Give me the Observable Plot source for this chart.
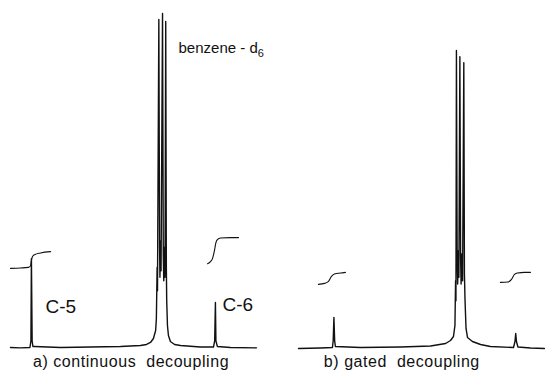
<!DOCTYPE html>
<html><head><meta charset="utf-8">
<script src="https://cdn.jsdelivr.net/npm/d3@7"></script>
<script src="https://cdn.jsdelivr.net/npm/@observablehq/plot@0.6"></script>
<style>body{margin:0;background:#fff}#chart svg{display:block}</style>
</head><body><div id="chart"></div>
<script>
// Positions are in relative spectrum units (0-100 across each panel), intensities 0-100 (tallest line = 100)
const panels = ["a", "b"];
const panelTitles = ["a) continuous  decoupling", "b) gated  decoupling"];
const peakLabels = ["C-5", "C-6"];
const solventLabel = ["benzene - d", "6"];

// a) continuous decoupling: spectrum trace [position, intensity]
const spectrumA = [
  [0,0],[4.1,-0.1],[7.9,0],[8.3,2],[8.5,26.6],[8.8,2],[9.1,0.3],[9.8,0.3],
  [20.3,0],[32.5,0.15],[44.7,0.3],[52.8,0.6],[55.3,0.9],[56.9,1.5],[58.1,2.7],
  [59,5.1],[59.3,8.7],[59.6,24],[59.75,17],[60.3,98.2],[60.6,30],[60.75,21],
  [61.0,32],[61.2,23],[61.8,100],[62.1,28],[62.3,20],[62.6,30],[62.8,21],
  [63.1,97.6],[63.35,24],[63.5,14],[63.8,6.6],[64.2,3.6],[65,1.8],[66.7,0.9],
  [69.1,0.6],[77.2,0.15],[82.5,0.15],[83,2],[83.3,13.5],[83.5,2],[84.1,0.3],
  [89.4,0],[100,-0.1]
];
// integral traces, panel a
const integralA5 = [[0,23.7],[4.1,23.8],[7.3,24],[8.1,24.4],[8.5,26],[8.9,27.2],[9.8,27.8],[12.2,28.3],[16.3,28.7]];
const integralA6 = [[80.1,25.1],[81.3,25.7],[82.1,26.6],[82.9,29],[83.5,31.4],[84.1,32.3],[85.4,32.8],[89.4,32.9],[92.7,32.9]];

// b) gated decoupling
const spectrumB = [
  [0,-0.3],[8.9,-0.15],[13.8,0],[14.1,2],[14.4,9],[14.7,2],[15,0.3],[25.2,0],
  [41.5,0.15],[53.7,0.45],[59.8,1.2],[61.8,2.1],[63,3.3],[63.6,6.6],[63.85,20],
  [64.0,14],[64.2,88.9],[64.5,27],[64.7,19],[65.0,29],[65.2,21],[65.6,87.1],
  [65.9,27],[66.1,19],[66.4,28],[66.7,20],[67.2,85.3],[67.45,22],[67.7,14],[68.1,5.7],
  [68.7,3],[70.7,1.8],[74,0.9],[78,0.3],[87.4,0],[88,1.8],[88.3,4.2],[88.6,1.8],
  [89.2,0.15],[94.3,-0.15],[100,-0.3]
];
const integralB5 = [[8.1,18.9],[10.6,19.2],[12.2,19.8],[13.4,21.3],[14.6,22],[17.1,22.3],[19.1,22.5]];
const integralB6 = [[82.1,19.5],[85,19.6],[86.6,20.4],[87.8,21.9],[89,22.3],[91.9,22.5],[94.3,22.5]];

// label anchor positions [position, intensity]
const peakLabelPos = [[14.2, 12.3], [86.2, 12.9]];
const solventLabelPos = [68.3, 89.5];
const titlePos = [[49, -4.3], [42, -4.3]];

const spectra = [];
const addTrace = (panel, series, pts) => pts.forEach(([x, y]) => spectra.push({panel, series, x, y}));
addTrace("a", "spectrum", spectrumA);
addTrace("a", "int5", integralA5);
addTrace("a", "int6", integralA6);
addTrace("b", "spectrum", spectrumB);
addTrace("b", "int5", integralB5);
addTrace("b", "int6", integralB6);

const peakTexts = peakLabels.map((t, i) => ({panel: "a", text: t, x: peakLabelPos[i][0], y: peakLabelPos[i][1]}));
const titles = panelTitles.map((t, i) => ({panel: panels[i], text: t, x: titlePos[i][0], y: titlePos[i][1]}));
const solvent = [{panel: "a", text: solventLabel[0], x: solventLabelPos[0], y: solventLabelPos[1]}];

const font = "Liberation Sans, Arial, sans-serif";
const plot = Plot.plot({
  width: 545, height: 372,
  marginTop: 13, marginBottom: 25, marginLeft: 10, marginRight: 1,
  x: {domain: [0, 100], axis: null},
  y: {domain: [0, 100], axis: null},
  fx: {domain: panels, axis: null, paddingInner: 0.1458, paddingOuter: 0, round: false},
  style: {background: "#fff", fontFamily: font, overflow: "visible"},
  marks: [
    Plot.line(spectra.filter(d => d.series === "spectrum"), {x: "x", y: "y", z: "series", fx: "panel", stroke: "#111", strokeWidth: 1.4, curve: "linear"}),
    Plot.line(spectra.filter(d => d.series !== "spectrum"), {x: "x", y: "y", z: "series", fx: "panel", stroke: "#111", strokeWidth: 1.1, curve: "monotone-x"}),
    Plot.text(peakTexts, {x: "x", y: "y", fx: "panel", text: "text", textAnchor: "start", fontSize: 19, fill: "#111"}),
    Plot.text(solvent, {x: "x", y: "y", fx: "panel", text: "text", textAnchor: "start", fontSize: 15, fill: "#111"}),
    Plot.text(titles, {x: "x", y: "y", fx: "panel", text: "text", textAnchor: "middle", fontSize: 16, fill: "#111"})
  ]
});
// subscript for the solvent label
d3.select(plot).selectAll("text").filter(function() { return this.textContent === solventLabel[0]; })
  .each(function() {
    d3.select(this).append("tspan").attr("dy", "0.35em").attr("font-size", 11).text(solventLabel[1]);
  });
d3.select(plot).selectAll("text").style("white-space", "pre");
d3.select(plot).selectAll("text").filter(function() { return panelTitles.includes(this.textContent); })
  .style("letter-spacing", "0.55px");
document.getElementById("chart").append(plot);
</script></body></html>
